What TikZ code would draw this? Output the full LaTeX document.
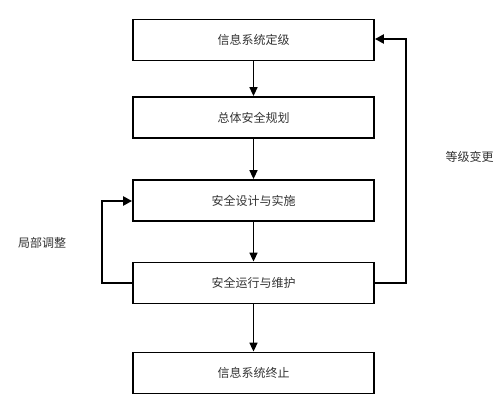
\documentclass[tikz,border=0pt]{standalone}
\usepackage{fontspec}
\newfontfamily\cjk{Noto Sans CJK SC}
\usetikzlibrary{arrows.meta}
\begin{document}
\begin{tikzpicture}[x=1pt,y=-1pt,
  stagebox/.style={draw=black,line width=1.8pt,minimum width=241pt,minimum height=41pt,inner sep=0pt,font=\cjk\fontsize{12}{14}\selectfont,text=black!80},
  flow/.style={line width=1.6pt,-{Triangle[length=9pt,width=8pt]}},
  loop/.style={line width=2.6pt,-{Triangle[length=9pt,width=9pt]}},
  lbl/.style={font=\cjk\fontsize{12}{14}\selectfont,text=black!80,inner sep=0pt}]
\useasboundingbox (0,0) rectangle (498,401);
\node[stagebox] (a) at (253.5,40) {信息系统定级};
\node[stagebox] (b) at (253.5,117.5) {总体安全规划};
\node[stagebox] (c) at (253.5,200.5) {安全设计与实施};
\node[stagebox] (d) at (253.5,283) {安全运行与维护};
\node[stagebox] (e) at (253.5,373) {信息系统终止};
\draw[flow] (a) -- (b);
\draw[flow] (b) -- (c);
\draw[flow] (c) -- (d);
\draw[flow] (d) -- (e);
\draw[loop] (d.east) -| (406,39) -- (a.east |- 0,39);
\draw[loop] (d.west) -| (102,201) -- (c.west |- 0,201);
\node[lbl] (l1) at (469.5,157) {等级变更};
\node[lbl] (l2) at (42,243) {局部调整};
\end{tikzpicture}
\end{document}
